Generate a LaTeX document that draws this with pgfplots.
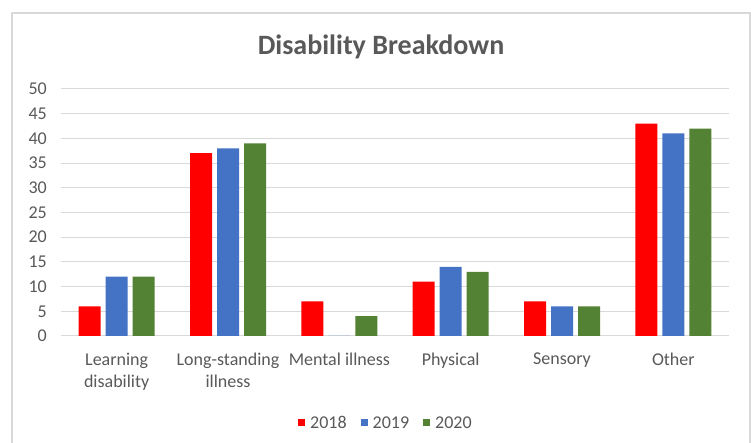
\documentclass[border=0pt]{standalone}
\usepackage{fontspec}
\setmainfont{Carlito}
\usepackage{pgfplots}
\pgfplotsset{compat=1.18}
\definecolor{cred}{HTML}{FF0000}
\definecolor{cblue}{HTML}{4472C4}
\definecolor{cgreen}{HTML}{548235}
\definecolor{gridc}{HTML}{D9D9D9}
\definecolor{txt}{HTML}{595959}
\begin{document}
\begin{tikzpicture}[x=1pt,y=1pt]
\useasboundingbox (-61,-107) rectangle (690,336);
\fill[white] (-61,-107) rectangle (690,336);
\draw[gridc, line width=1.2pt] (-49,-115) -- (-49,323) -- (689,323) -- (689,-115);
\node[font=\fontsize{28}{32}\selectfont\bfseries, text=txt] at (320,289) {Disability Breakdown};
\begin{axis}[
  scale only axis, width=668pt, height=247pt,
  xmin=-0.5, xmax=5.5, ymin=0, ymax=50,
  ytick={0,5,...,50},
  xtick={0,...,5},
  xticklabels={{Learning\\disability},{Long-standing\\illness},{Mental illness},{Physical},{Sensory},{Other}},
  ymajorgrids, grid style={gridc, line width=1pt},
  axis line style={draw=none},
  major tick length=0pt,
  /pgf/number format/assume math mode=true,
  yticklabel style={font=\fontsize{18}{21}\selectfont, text=txt, anchor=east, inner sep=0pt, xshift=-14pt},
  xticklabel style={font=\fontsize{18}{22}\selectfont, text=txt, align=center, anchor=north, inner sep=0pt, yshift=-17pt},
  ybar=5pt, bar width=22pt,
  legend style={at={(0.4865,-0.352)}, anchor=center, draw=none, fill=none, legend columns=-1,
    font=\fontsize{18}{21}\selectfont, text=txt, inner sep=0pt,
    /tikz/every odd column/.append style={column sep=3pt},
    /tikz/every even column/.append style={column sep=12pt}},
  legend image code/.code={\fill[#1] (0pt,-3.5pt) rectangle (7pt,3.5pt);},
]
\addplot[fill=cred, draw=none] coordinates {(0,6) (1,37) (2,7) (3,11) (4,7) (5,43)};
\addplot[fill=cblue, draw=none] coordinates {(0,12) (1,38) (2,0) (3,14) (4,6) (5,41)};
\addplot[fill=cgreen, draw=none] coordinates {(0,12) (1,39) (2,4) (3,13) (4,6) (5,42)};
\legend{2018,2019,2020}
\end{axis}
\end{tikzpicture}
\end{document}
